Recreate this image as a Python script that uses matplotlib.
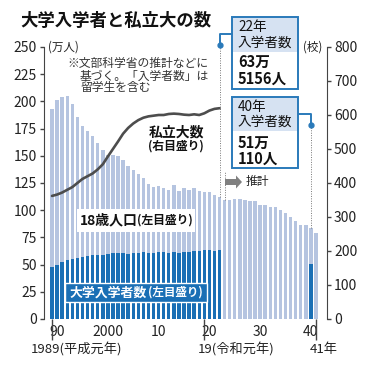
"""大学入学者と私立大の数 — 18歳人口・大学入学者数（左目盛り）と私立大数（右目盛り）."""

import matplotlib

matplotlib.use("Agg")

import matplotlib.pyplot as plt
from matplotlib.patches import Rectangle, FancyArrow
from matplotlib.lines import Line2D

plt.rcParams["font.family"] = ["Noto Sans CJK JP", "DejaVu Sans"]

# ---- data (万人 / 校) ----
YEARS = list(range(1989, 2042))
POP18 = [193, 201, 204, 205, 198, 186, 177, 173, 168, 162,
         155, 151, 151, 150, 146, 141, 137, 133, 130, 124,
         121, 122, 120, 119, 123, 118, 120, 119, 120, 118,
         117, 117, 114, 112,
         109, 109, 110, 110, 109, 108, 108, 105, 105, 103,
         103, 100, 97, 94, 90, 86, 86, 84, 79]
ENROLL_YEARS = list(range(1989, 2023)) + [2040]
ENROLL = [47.6, 49.2, 52.2, 54.2, 55.4, 56.0, 56.8, 57.9, 58.7, 59.0,
          59.0, 59.9, 60.3, 60.9, 60.4, 59.9, 60.4, 60.3, 61.4, 60.7,
          60.8, 61.9, 61.3, 60.5, 61.4, 60.8, 61.8, 61.8, 62.9, 62.9,
          63.1, 63.5, 62.7, 63.5,
          51.0]
PRIVATE_YEARS = list(range(1989, 2023))
PRIVATE = [362, 366, 372, 380, 388, 400, 412, 420, 428, 440,
           455, 478, 500, 522, 545, 562, 575, 585, 592, 596,
           598, 600, 600, 603, 604, 603, 601, 600, 602, 600,
           605, 613, 618, 620]

XTICKS = [1990, 2000, 2010, 2020, 2030, 2040]
XTICK_LABELS = ["90", "2000", "10", "20", "30", "40"]
LEFT_TICKS = list(range(0, 251, 25))
RIGHT_TICKS = list(range(0, 801, 100))

LIGHT = "#b5c4e0"
DARK = "#1a6fb5"
LINE = "#4d4d4d"
AXIS = "#444444"
BOX_EDGE = "#2a7aba"
BOX_FILL = "#d6e2f2"

W, H = 370, 367


def fx(x):
    return x / W


def fy(y):
    return 1 - y / H


fig = plt.figure(figsize=(W / 100, H / 100), dpi=100)
fig.patch.set_facecolor("white")

ax = fig.add_axes([fx(44), fy(319), (327 - 44) / W, (319 - 47) / H])
ax2 = ax.twinx()

ax.bar(YEARS, POP18, width=0.68, color=LIGHT, zorder=1)
ax.bar(ENROLL_YEARS, ENROLL, width=0.68, color=DARK, zorder=2)
ax2.plot(PRIVATE_YEARS, PRIVATE, color=LINE, lw=1.9, solid_capstyle="round",
         zorder=3)

ax.set_xlim(1987.42, 2043.17)
ax.set_ylim(0, 250)
ax2.set_ylim(0, 800)

for a in (ax, ax2):
    a.spines["top"].set_visible(False)
    a.spines["bottom"].set_visible(False)
ax.spines["right"].set_visible(False)
ax2.spines["left"].set_visible(False)
ax.spines["left"].set_color(AXIS)
ax2.spines["right"].set_color(AXIS)

ax.set_yticks(LEFT_TICKS)
ax2.set_yticks(RIGHT_TICKS)
ax.tick_params(axis="y", length=3, width=1, color=AXIS, pad=2,
               labelsize=10, labelcolor="#222222")
ax2.tick_params(axis="y", length=3, width=1, color=AXIS, pad=2,
                labelsize=10, labelcolor="#222222")

ax.set_xticks(XTICKS, XTICK_LABELS)
ax.set_xticks([1989, 2019, 2041], minor=True)
ax.tick_params(axis="x", which="major", length=0, pad=4, labelsize=10,
               labelcolor="#222222")
ax.tick_params(axis="x", which="minor", length=15, width=1, color=AXIS)

# dotted guide lines
i22 = YEARS.index(2022)
i23 = YEARS.index(2023)
i40 = YEARS.index(2040)
ax.plot([2022, 2022], [POP18[i22], 251.8], ls=(0, (1, 1.5)), lw=0.7,
        color="#777777", clip_on=False, zorder=4)
ax.plot([2023, 2023], [POP18[i23], 135], ls=(0, (1, 1.5)), lw=0.7,
        color="#777777", clip_on=False, zorder=4)
ax.plot([2040, 2040], [POP18[i40], 178.3], ls=(0, (1, 1.5)), lw=0.7,
        color="#777777", clip_on=False, zorder=4)
ax.plot([2022], [251.8], "o", ms=3.5, color=BOX_EDGE, clip_on=False, zorder=5)
ax.plot([2040], [178.3], "o", ms=3.5, color=BOX_EDGE, clip_on=False, zorder=5)

# connectors (figure pixels)
fig.add_artist(Line2D([fx(219.5), fx(219.5), fx(232)],
                      [fy(45), fy(34), fy(34)], color=BOX_EDGE, lw=1.4))
fig.add_artist(Line2D([fx(299), fx(311), fx(311)],
                      [fy(114), fy(114), fy(125)], color=BOX_EDGE, lw=1.4))


def callout(x0, x1, y0, ymid, y1, head, body):
    fig.add_artist(Rectangle((fx(x0), fy(y1)), fx(x1 - x0), (y1 - y0) / H,
                             facecolor="white", edgecolor="none"))
    fig.add_artist(Rectangle((fx(x0), fy(ymid)), fx(x1 - x0),
                             (ymid - y0) / H, facecolor=BOX_FILL,
                             edgecolor="none"))
    fig.add_artist(Rectangle((fx(x0), fy(y1)), fx(x1 - x0), (y1 - y0) / H,
                             facecolor="none", edgecolor=BOX_EDGE, lw=1.4))
    for (txt, yy) in head:
        fig.text(fx(x0 + 6), fy(yy), txt, fontsize=9.8, va="center",
                 ha="left", color="#111111")
    for (txt, yy) in body:
        fig.text(fx(x0 + 6), fy(yy), txt, fontsize=10.5, va="center",
                 ha="left", color="#111111", fontweight="bold")


callout(232, 298, 17, 52, 89,
        [("22年", 27), ("入学者数", 43)], [("63万", 62), ("5156人", 79)])
callout(232, 298, 97, 131, 168,
        [("40年", 107), ("入学者数", 122)], [("51万", 143), ("110人", 159)])

# title and notes
fig.text(fx(20), fy(21), "大学入学者と私立大の数", fontsize=12.5,
         fontweight="bold", va="center", ha="left", color="#111111")
fig.text(fx(48), fy(47), "(万人)", fontsize=8.3, va="center", ha="left",
         color="#222222")
fig.text(fx(322), fy(47), "(校)", fontsize=8.3, va="center", ha="right",
         color="#222222")
fig.text(fx(67), fy(63), "※文部科学省の推計などに", fontsize=8.5,
         va="center", ha="left", color="#333333")
fig.text(fx(80), fy(76), "基づく。「入学者数」は", fontsize=8.5,
         va="center", ha="left", color="#333333")
fig.text(fx(80), fy(88), "留学生を含む", fontsize=8.5,
         va="center", ha="left", color="#333333")

fig.text(fx(176), fy(132), "私立大数", fontsize=10, fontweight="bold",
         va="center", ha="center", color="#111111")
fig.text(fx(176), fy(146), "(右目盛り)", fontsize=8.5, fontweight="bold",
         va="center", ha="center", color="#111111")

# 推計 arrow
fig.add_artist(FancyArrow(fx(225), fy(182), fx(11), 0, width=6 / H,
                          head_width=13 / H, head_length=fx(6),
                          length_includes_head=False, color="#808080",
                          lw=0))
fig.text(fx(246), fy(182), "推計", fontsize=8.5, va="center", ha="left",
         color="#222222")

# 18歳人口 label on white
fig.add_artist(Rectangle((fx(77), fy(232)), fx(118), 23 / H,
                         facecolor="white", edgecolor="none"))
fig.text(fx(80), fy(220), "18歳人口", fontsize=10, fontweight="bold",
         va="center", ha="left", color="#111111")
fig.text(fx(137), fy(220), "(左目盛り)", fontsize=8.5, fontweight="bold",
         va="center", ha="left", color="#111111")

# 大学入学者数 label on dark box
fig.add_artist(Rectangle((fx(65), fy(302)), fx(142), 19 / H,
                         facecolor=DARK, edgecolor="white", lw=1))
fig.text(fx(69), fy(292.5), "大学入学者数", fontsize=9.3, fontweight="bold",
         va="center", ha="left", color="white")
fig.text(fx(148), fy(292.5), "(左目盛り)", fontsize=8.3, fontweight="bold",
         va="center", ha="left", color="white")

# second row of x labels
fig.text(fx(31), fy(349), "1989(平成元年)", fontsize=9.5, va="center",
         ha="left", color="#222222")
fig.text(fx(198), fy(349), "19(令和元年)", fontsize=9.5, va="center",
         ha="left", color="#222222")
fig.text(fx(310), fy(349), "41年", fontsize=9.5, va="center",
         ha="left", color="#222222")

fig.savefig("out.png", dpi=100, facecolor="white")
